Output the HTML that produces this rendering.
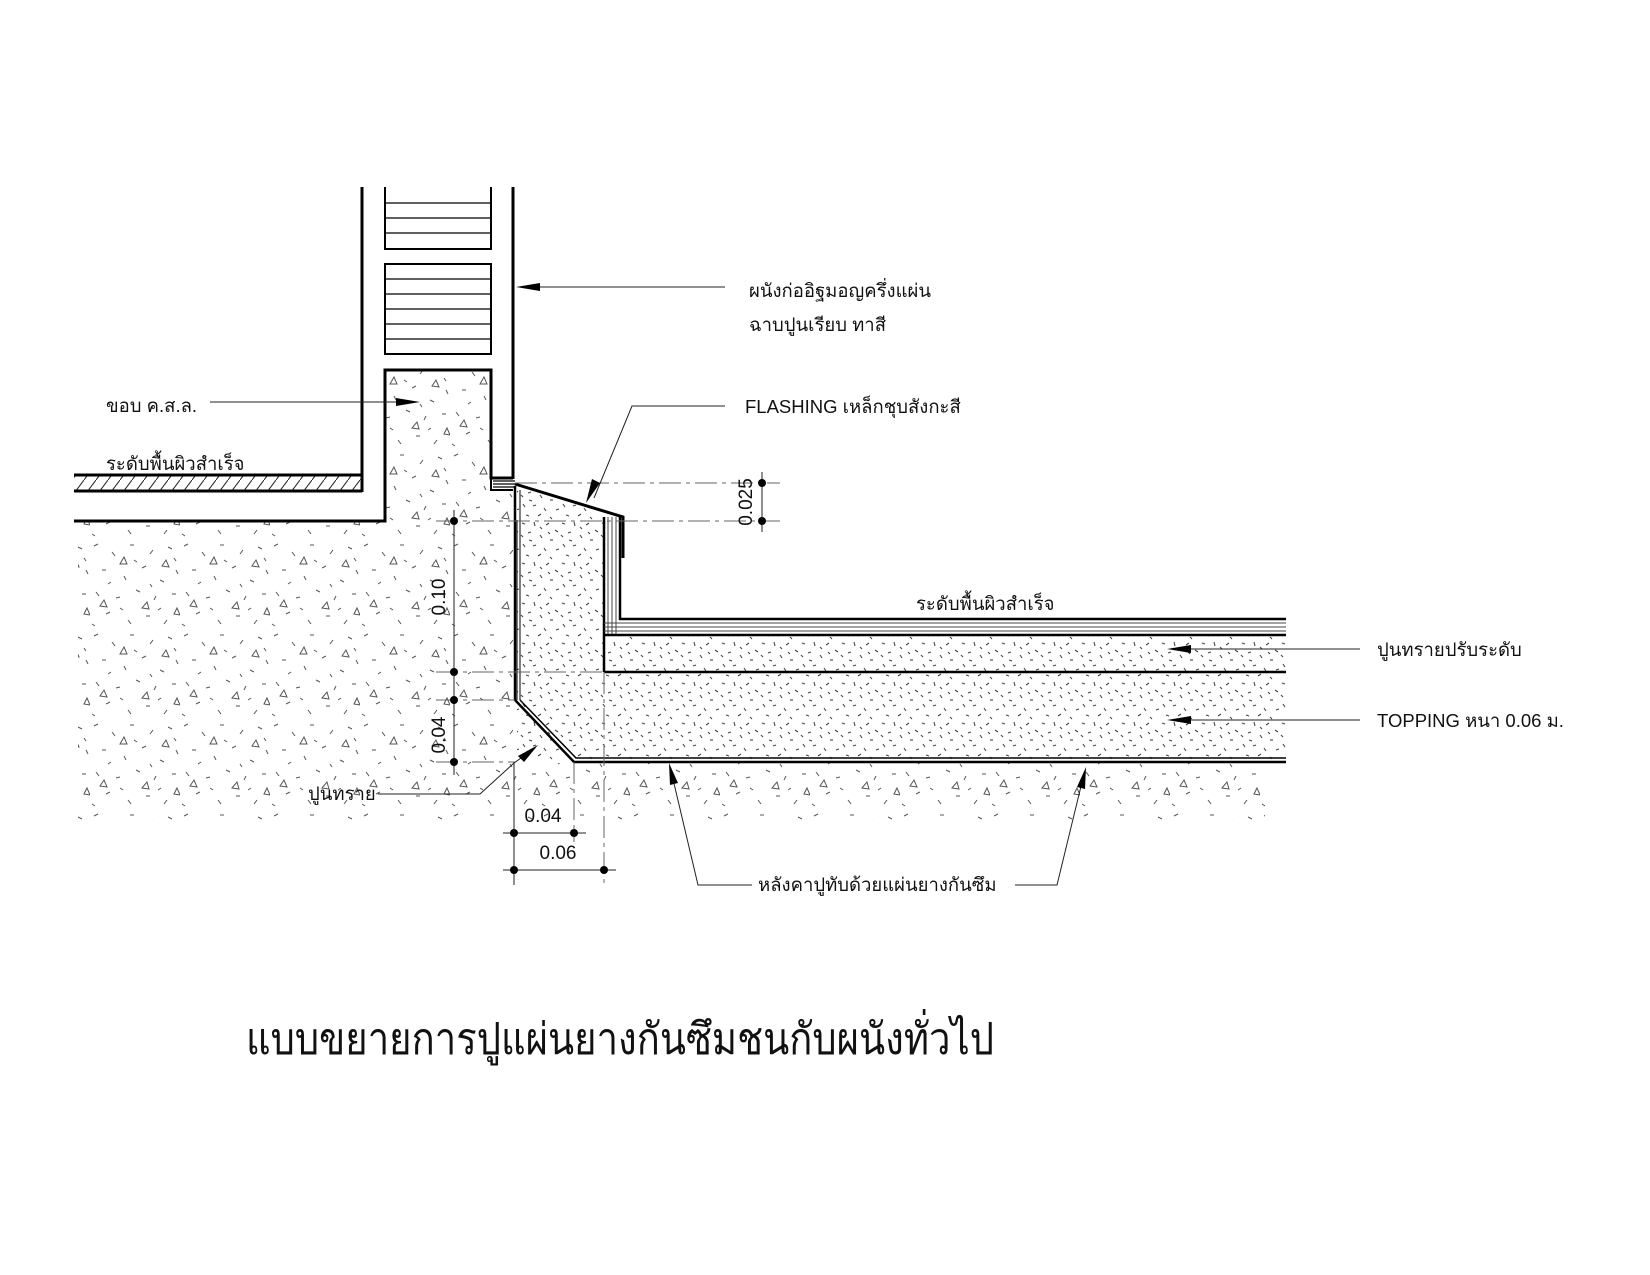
<!DOCTYPE html>
<html><head><meta charset="utf-8">
<style>
html,body{margin:0;padding:0;background:#fff;}
svg{display:block;}
text{font-family:"Liberation Sans","DejaVu Sans",sans-serif;fill:#111;}
</style></head>
<body>
<svg width="1650" height="1275" viewBox="0 0 1650 1275" xmlns="http://www.w3.org/2000/svg">
<defs>
<pattern id="conc" width="90" height="90" patternUnits="userSpaceOnUse">
<g stroke="#555" stroke-width="1" fill="none">
<line x1="4" y1="6" x2="8" y2="4"/><line x1="22" y1="12" x2="25" y2="16"/><line x1="40" y1="5" x2="44" y2="5"/>
<line x1="60" y1="14" x2="63" y2="10"/><line x1="78" y1="7" x2="82" y2="9"/><line x1="12" y1="30" x2="16" y2="30"/>
<line x1="34" y1="36" x2="36" y2="40"/><line x1="52" y1="28" x2="56" y2="26"/><line x1="70" y1="40" x2="74" y2="42"/>
<line x1="86" y1="30" x2="88" y2="34"/><line x1="6" y1="52" x2="9" y2="56"/><line x1="26" y1="58" x2="30" y2="57"/>
<line x1="46" y1="50" x2="50" y2="52"/><line x1="64" y1="60" x2="66" y2="56"/><line x1="82" y1="54" x2="86" y2="54"/>
<line x1="16" y1="74" x2="20" y2="72"/><line x1="38" y1="80" x2="41" y2="84"/><line x1="56" y1="76" x2="60" y2="76"/>
<line x1="74" y1="84" x2="77" y2="80"/><line x1="2" y1="84" x2="5" y2="86"/>
<line x1="44" y1="20" x2="47" y2="22"/><line x1="18" y1="44" x2="21" y2="42"/><line x1="60" y1="44" x2="62" y2="47"/>
<line x1="30" y1="68" x2="33" y2="70"/><line x1="68" y1="70" x2="71" y2="68"/><line x1="84" y1="18" x2="86" y2="21"/>
<path d="M30 24 L34 17 L37 24 Z"/><path d="M72 26 L76 20 L79 27 Z"/><path d="M10 66 L14 60 L17 67 Z"/>
<path d="M52 68 L57 62 L59 69 Z"/><path d="M84 74 L87 68 L90 75 Z"/>
</g></pattern>
<pattern id="sand" width="40" height="40" patternUnits="userSpaceOnUse">
<g stroke="#444" stroke-width="1.1">
<line x1="2" y1="3" x2="5" y2="4"/><line x1="14" y1="2" x2="15" y2="6"/><line x1="26" y1="5" x2="29" y2="3"/>
<line x1="35" y1="10" x2="38" y2="12"/><line x1="8" y1="13" x2="11" y2="12"/><line x1="20" y1="15" x2="22" y2="18"/>
<line x1="30" y1="20" x2="33" y2="20"/><line x1="3" y1="24" x2="5" y2="27"/><line x1="13" y1="26" x2="16" y2="25"/>
<line x1="24" y1="28" x2="26" y2="31"/><line x1="36" y1="30" x2="39" y2="29"/><line x1="6" y1="35" x2="9" y2="36"/>
<line x1="18" y1="36" x2="21" y2="34"/><line x1="30" y1="37" x2="32" y2="39"/>
<line x1="20" y1="7" x2="22" y2="9"/><line x1="1" y1="15" x2="3" y2="17"/><line x1="9" y1="20" x2="12" y2="21"/><line x1="28" y1="12" x2="30" y2="14"/>
</g></pattern>
<pattern id="hatch" width="12" height="16" patternUnits="userSpaceOnUse">
<line x1="0" y1="16" x2="12" y2="0" stroke="#222" stroke-width="1"/>
</pattern>
</defs>

<polygon points="78,521 385,521 385,370 491,370 491,490 513,490 513,763 1265,763 1265,820 78,820" fill="url(#conc)"/>
<polygon points="517,486 604,512 604,635 1286,635 1286,759 574,759 517,703" fill="url(#sand)"/>
<polygon points="517,704 517,760 572,760" fill="url(#sand)"/>

<g stroke="#000" fill="none">
<line x1="362" y1="187" x2="362" y2="492" stroke-width="3"/>
<line x1="513" y1="187" x2="513" y2="479" stroke-width="3"/>
<g stroke-width="2">
<path d="M385 187 V249 H491 V187"/>
<path d="M385 264 H491 V354 H385 Z"/>
</g>
<g stroke-width="1.3">
<line x1="385" y1="203" x2="491" y2="203"/><line x1="385" y1="218" x2="491" y2="218"/><line x1="385" y1="233" x2="491" y2="233"/>
<line x1="385" y1="279" x2="491" y2="279"/><line x1="385" y1="294" x2="491" y2="294"/><line x1="385" y1="309" x2="491" y2="309"/>
<line x1="385" y1="324" x2="491" y2="324"/><line x1="385" y1="339" x2="491" y2="339"/>
</g>
<path d="M74 521 H385 V370 H491 V478 H513" stroke-width="3"/>
<path d="M491 478 V490 H513" stroke-width="2"/>
<rect x="74" y="475" width="288" height="15" fill="url(#hatch)" stroke="none"/>
<line x1="74" y1="475" x2="362" y2="475" stroke-width="3"/>
<line x1="74" y1="491" x2="362" y2="491" stroke-width="3"/>
<g stroke-width="1.2"><line x1="493" y1="481" x2="515" y2="481"/><line x1="493" y1="484" x2="515" y2="484"/><line x1="493" y1="487" x2="515" y2="487"/></g>
<path d="M515 484 L623 517 V558" stroke-width="3"/>
<path d="M515 486 V700 L574 762 H1286" stroke-width="2.5"/>
<path d="M520 490 V700" stroke-width="1"/>
<path d="M520 700 L576 758 H1286" stroke-width="1.5"/>
<line x1="517" y1="520" x2="517" y2="700" stroke-width="1"/>
<path d="M604 517 V672" stroke-width="2.5"/>
<path d="M620 517 V619 H1286" stroke-width="2.5"/>
<g stroke-width="1" stroke="#444">
<line x1="608" y1="517" x2="608" y2="635"/><line x1="612" y1="517" x2="612" y2="635"/><line x1="616" y1="517" x2="616" y2="635"/>
<line x1="604" y1="623" x2="1286" y2="623"/><line x1="604" y1="627" x2="1286" y2="627"/><line x1="604" y1="631" x2="1286" y2="631"/>
</g>
<line x1="604" y1="635" x2="1286" y2="635" stroke-width="2.5"/>
<line x1="604" y1="672" x2="1286" y2="672" stroke-width="2.5"/>
</g>

<g stroke="#666" stroke-width="1" fill="none" stroke-dasharray="22,5,4,5">
<line x1="515" y1="483" x2="780" y2="483"/>
<line x1="436" y1="521" x2="780" y2="521"/>
<line x1="436" y1="672" x2="604" y2="672"/>
<line x1="436" y1="700" x2="515" y2="700"/>
<line x1="436" y1="762" x2="515" y2="762"/>
<line x1="574" y1="762" x2="574" y2="842"/>
<line x1="604" y1="672" x2="604" y2="885"/>
</g>
<g stroke="#222" stroke-width="1" fill="none">
<line x1="454" y1="510" x2="454" y2="775"/>
<line x1="762" y1="472" x2="762" y2="532"/>
<line x1="514" y1="762" x2="514" y2="885"/>
<line x1="503" y1="833" x2="586" y2="833"/>
<line x1="503" y1="870" x2="616" y2="870"/>
</g>
<g fill="#000">
<circle cx="454" cy="521" r="4"/><circle cx="454" cy="672" r="4"/><circle cx="454" cy="700" r="4"/><circle cx="454" cy="762" r="4"/>
<circle cx="762" cy="483" r="4"/><circle cx="762" cy="521" r="4"/>
<circle cx="514" cy="833" r="4"/><circle cx="574" cy="833" r="4"/><circle cx="514" cy="870" r="4"/><circle cx="604" cy="870" r="4"/>
</g>

<g stroke="#222" stroke-width="1" fill="none">
<line x1="725" y1="287" x2="530" y2="287"/>
<line x1="210" y1="402" x2="405" y2="402"/>
<polyline points="725,406 632,406 594,498"/>
<polyline points="378,794 480,794 514,763 528,753"/>
<line x1="1360" y1="649" x2="1180" y2="649"/>
<line x1="1360" y1="720" x2="1180" y2="720"/>
<polyline points="752,885 698,885 672,775"/>
<polyline points="1015,885 1057,885 1083,778"/>
</g>
<g fill="#000">
<polygon points="516,287 540,283 540,291"/>
<polygon points="420,402 396,398 396,406"/>
<polygon points="586,503 600,483 592,479"/>
<polygon points="538,745 524,762 518,756"/>
<polygon points="1167,649 1191,645 1191,653"/>
<polygon points="1167,720 1191,716 1191,724"/>
<polygon points="669,763 678,783 670,785"/>
<polygon points="1086,767 1085,789 1077,787"/>
</g>

<g font-size="18.5">
<text x="749" y="297">ผนังก่ออิฐมอญครึ่งแผ่น</text>
<text x="749" y="331">ฉาบปูนเรียบ ทาสี</text>
<text x="745" y="413">FLASHING เหล็กชุบสังกะสี</text>
<text x="106" y="412">ขอบ ค.ส.ล.</text>
<text x="106" y="470">ระดับพื้นผิวสำเร็จ</text>
<text x="916" y="610">ระดับพื้นผิวสำเร็จ</text>
<text x="1377" y="656">ปูนทรายปรับระดับ</text>
<text x="1377" y="727">TOPPING หนา 0.06 ม.</text>
<text x="308" y="800">ปูนทราย</text>
<text x="758" y="891">หลังคาปูทับด้วยแผ่นยางกันซึม</text>
</g>
<g font-size="19">
<text x="543" y="822" text-anchor="middle">0.04</text>
<text x="558" y="859" text-anchor="middle">0.06</text>
<text transform="translate(445,597) rotate(-90)" text-anchor="middle">0.10</text>
<text transform="translate(445,735) rotate(-90)" text-anchor="middle">0.04</text>
<text transform="translate(752,502) rotate(-90)" text-anchor="middle">0.025</text>
</g>
<text x="246" y="1054" font-size="44" textLength="748" lengthAdjust="spacingAndGlyphs">แบบขยายการปูแผ่นยางกันซึมชนกับผนังทั่วไป</text>
</svg>
</body></html>
